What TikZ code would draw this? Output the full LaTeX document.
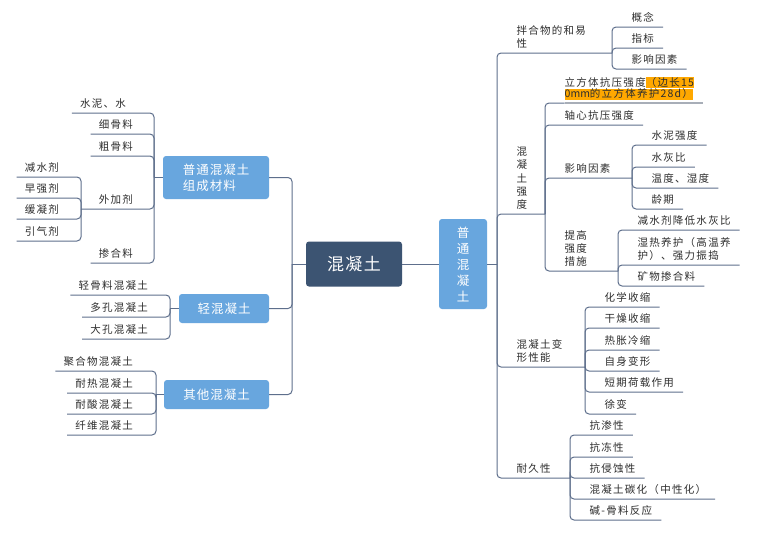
\documentclass[tikz,border=0pt]{standalone}
\usepackage{fontspec}
\newfontfamily\leaffont{Noto Sans CJK SC}[LetterSpace=12]
\newfontfamily\plainfont{Noto Sans CJK SC}
\newfontfamily\boxfont{Noto Sans CJK SC}[LetterSpace=8]
\definecolor{lnc}{HTML}{5E6F8C}
\definecolor{rootc}{HTML}{3C5472}
\definecolor{boxc}{HTML}{68A6DE}
\definecolor{txtc}{HTML}{2E2E2E}
\definecolor{hlc}{HTML}{FFA800}
\definecolor{gulc}{HTML}{A8AEB8}
\newcommand\hlbox[1]{{\fboxsep=0pt\colorbox{hlc}{\rule[-1.95pt]{0pt}{9.55pt}#1}}}
\begin{document}
\begin{tikzpicture}[x=1pt,y=-1pt,
  ln/.style={draw=lnc, line width=1pt, rounded corners=4pt},
  lf/.style={font=\leaffont\fontsize{10.5}{13.3}\selectfont, text=txtc, inner xsep=0pt, inner ysep=0pt, text depth=5pt, align=left},
  lfR/.style={lf, anchor=south west},
  lfL/.style={lf, anchor=south east},
  bx/.style={fill=boxc, rounded corners=3pt, text=white, font=\boxfont\fontsize{12.5}{16}\selectfont, align=left, inner sep=0pt}]
\fill[white] (0,0) rectangle (760,536);
\useasboundingbox (0,0) rectangle (760,536);

% central nodes
\node[fill=rootc, rounded corners=3pt, text=white, inner sep=0pt, minimum width=96pt, minimum height=45pt, font=\boxfont\fontsize{17}{20}\selectfont] (root) at (354,264) {混凝土};
\node[bx, align=center, minimum width=48pt, minimum height=90pt] (hub) at (463,264) {普\\通\\混\\凝\\土};
\node[bx, minimum width=106pt, minimum height=43pt] (b1) at (216,177.5) {普通混凝土\\组成材料};
\node[bx, minimum width=90pt, minimum height=29pt] (b2) at (224,308.5) {轻混凝土};
\node[bx, minimum width=105pt, minimum height=29pt] (b3) at (216.5,394.5) {其他混凝土};

\coordinate (LT) at (292,264);
\coordinate (RT) at (497,264);
\draw[ln] (root.west) -- (LT);
\draw[ln] (LT) |- (b1.east);
\draw[ln] (LT) |- (b2.east);
\draw[ln] (LT) |- (b3.east);
\draw[ln] (root.east) -- (hub.west);
\draw[ln] (hub.east) -- (RT);

% ---------- right side ----------
\coordinate (c1) at (612,53);
\coordinate (c2) at (545,214);
\coordinate (c3) at (585,367);
\coordinate (c4) at (570,478);
\node[lfR] (r1) at (516.5,53) {拌合物的和易\\性};
\node[lfR, align=center] (r2) at (516.5,214) {混\\凝\\土\\强\\度};
\node[lfR] (r3) at (516.5,367) {混凝土变\\形性能};
\node[lfR] (r4) at (516.5,478) {耐久性};
\draw[ln] (RT) |- (c1);
\draw[ln] (RT) |- (c2);
\draw[ln] (RT) |- (c3);
\draw[ln] (RT) |- (c4);

% children of c1
\node[lfR] (a1) at (631.5,27) {概念};
\node[lfR] (a2) at (631.5,48) {指标};
\node[lfR] (a3) at (631.5,69) {影响因素};
\foreach \n in {a1,a2,a3} \draw[ln] (c1) |- ([xshift=9pt]\n.south east);

% children of c2
\coordinate (c21) at (632,178);
\coordinate (c22) at (618,271);
\node[lfR, font=\leaffont\fontsize{10.5}{11.5}\selectfont] (q1) at (564.5,103) {立方体抗压强度\hlbox{（边长15}\\\hlbox{{\plainfont 0mm}的立方体养护28d）}};
\node[lfR] (q2) at (564.5,125) {轴心抗压强度};
\node[lfR] (q3) at (564.5,178) {影响因素};
\node[lfR] (q4) at (564.5,271) {提高\\强度\\措施};
\draw[ln] (c2) |- (q1.south west);
\draw[draw=gulc, line width=1.8pt] (q1.south west) -- ([xshift=9pt]q1.south east);
\draw[ln] (c2) |- ([xshift=9pt]q2.south east);
\draw[ln] (c2) |- (c21);
\draw[ln] (c2) |- (c22);

\node[lfR] (s1) at (651.5,145) {水泥强度};
\node[lfR] (s2) at (651.5,167) {水灰比};
\node[lfR] (s3) at (651.5,188) {温度、湿度};
\node[lfR] (s4) at (651.5,209) {龄期};
\foreach \n in {s1,s2,s3,s4} \draw[ln] (c21) |- ([xshift=9pt]\n.south east);

\node[lfR] (m1) at (637.5,230) {减水剂降低水灰比};
\node[lfR] (m2) at (637.5,265) {湿热养护（高温养\\护）、强力振捣};
\node[lfR] (m3) at (637.5,286) {矿物掺合料};
\foreach \n in {m1,m2,m3} \draw[ln] (c22) |- ([xshift=9pt]\n.south east);

% children of c3
\node[lfR] (d1) at (604.5,307) {化学收缩};
\node[lfR] (d2) at (604.5,328) {干燥收缩};
\node[lfR] (d3) at (604.5,350) {热胀冷缩};
\node[lfR] (d4) at (604.5,371) {自身变形};
\node[lfR] (d5) at (604.5,392) {短期荷载作用};
\node[lfR] (d6) at (604.5,414) {徐变};
\foreach \n in {d1,d2,d3,d4,d5,d6} \draw[ln] (c3) |- ([xshift=9pt]\n.south east);

% children of c4
\node[lfR] (e1) at (589.5,435) {抗渗性};
\node[lfR] (e2) at (589.5,457) {抗冻性};
\node[lfR] (e3) at (589.5,478) {抗侵蚀性};
\node[lfR] (e4) at (589.5,499) {混凝土碳化（中性化）};
\node[lfR] (e5) at (589.5,520) {碱-骨料反应};
\foreach \n in {e1,e2,e3,e4,e5} \draw[ln] (c4) |- ([xshift=9pt]\n.south east);

% ---------- left side ----------
\coordinate (L1) at (154,177.5);
\coordinate (L2) at (170,308.5);
\coordinate (L3) at (156,394.5);
\draw[ln] (b1.west) -- (L1);
\draw[ln] (b2.west) -- (L2);
\draw[ln] (b3.west) -- (L3);

\coordinate (W) at (81,209);
\node[lfL] (p1) at (126,113) {水泥、水};
\node[lfL] (p2) at (133,134) {细骨料};
\node[lfL] (p3) at (133,156) {粗骨料};
\node[lfL] (p4) at (133,209) {外加剂};
\node[lfL] (p5) at (133,263) {掺合料};
\foreach \n in {p1,p2,p3,p5} \draw[ln] (L1) |- ([xshift=-8pt]\n.south west);
\draw[ln] (L1) |- (W);

\node[lfL] (w1) at (59,177) {减水剂};
\node[lfL] (w2) at (59,198) {早强剂};
\node[lfL] (w3) at (59,219) {缓凝剂};
\node[lfL] (w4) at (59,241) {引气剂};
\foreach \n in {w1,w2,w3,w4} \draw[ln] (W) |- ([xshift=-8pt]\n.south west);

\node[lfL] (k1) at (148,295) {轻骨料混凝土};
\node[lfL] (k2) at (148,317) {多孔混凝土};
\node[lfL] (k3) at (148,339) {大孔混凝土};
\foreach \n in {k1,k2,k3} \draw[ln] (L2) |- ([xshift=-8pt]\n.south west);

\node[lfL] (o1) at (133,371) {聚合物混凝土};
\node[lfL] (o2) at (133,393) {耐热混凝土};
\node[lfL] (o3) at (133,414) {耐酸混凝土};
\node[lfL] (o4) at (133,435) {纤维混凝土};
\foreach \n in {o1,o2,o3,o4} \draw[ln] (L3) |- ([xshift=-8pt]\n.south west);
\end{tikzpicture}
\end{document}
